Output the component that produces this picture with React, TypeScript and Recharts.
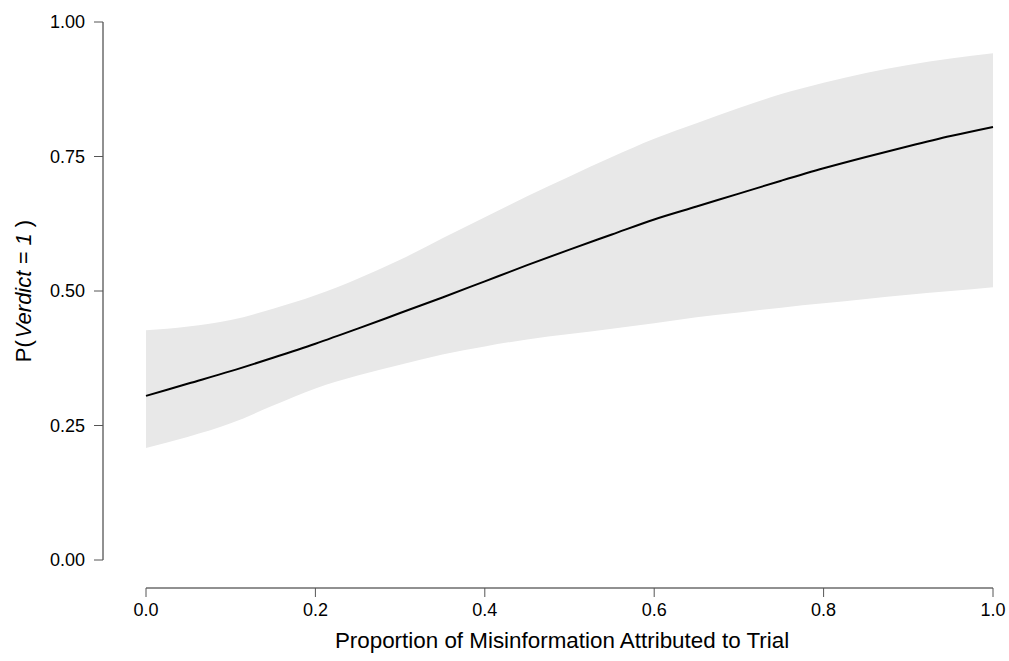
import { Area, ComposedChart, Line, XAxis, YAxis } from "recharts";

// proportion attributed to trial
const xs = [
  0, 0.05, 0.1, 0.15, 0.2, 0.25, 0.3, 0.35, 0.4, 0.45, 0.5, 0.55, 0.6, 0.65,
  0.7, 0.75, 0.8, 0.85, 0.9, 0.95, 1,
];
// fitted P(Verdict = 1)
const fit = [
  0.305, 0.328, 0.351, 0.376, 0.402, 0.43, 0.459, 0.488, 0.518, 0.548, 0.577,
  0.605, 0.633, 0.657, 0.681, 0.705, 0.728, 0.749, 0.769, 0.788, 0.805,
];
// confidence band
const lower = [
  0.208, 0.229, 0.254, 0.287, 0.319, 0.343, 0.363, 0.382, 0.397, 0.41, 0.42,
  0.43, 0.44, 0.451, 0.46, 0.469, 0.477, 0.485, 0.493, 0.5, 0.507,
];
const upper = [
  0.427, 0.434, 0.446, 0.467, 0.492, 0.523, 0.558, 0.598, 0.637, 0.676, 0.713,
  0.749, 0.783, 0.812, 0.84, 0.866, 0.887, 0.905, 0.92, 0.932, 0.942,
];

const xTicks = [0, 0.2, 0.4, 0.6, 0.8, 1];
const yTicks = [0, 0.25, 0.5, 0.75, 1];

const data = xs.map((x, i) => ({
  x,
  fit: fit[i],
  band: [lower[i], upper[i]],
}));

const font = "'Liberation Sans', Arial, sans-serif";

// R-style detached axes: line + ticks shifted away from the data region
function XTick({ x, y, payload }: any) {
  return (
    <text x={x} y={y + 28} dy="0.71em" textAnchor="middle" fontSize={18} fontFamily={font} fill="#000">
      {Number(payload.value).toFixed(1)}
    </text>
  );
}

function YTick({ x, y, payload }: any) {
  return (
    <text x={x - 43} y={y} dy="0.355em" textAnchor="end" fontSize={18} fontFamily={font} fill="#000">
      {Number(payload.value).toFixed(2)}
    </text>
  );
}

export default function App() {
  return (
    <div style={{ position: "absolute", left: 0, top: 0, width: 1009, height: 661, fontFamily: font }}>
      <style>{`
        .recharts-xAxis { transform: translate(0px, 28px); }
        .recharts-yAxis { transform: translate(-43px, 0px); }
      `}</style>
      <ComposedChart
        width={1009}
        height={661}
        data={data}
        margin={{ top: 22, right: 16, bottom: 0, left: 0 }}
        style={{ overflow: "visible" }}
      >
        <XAxis
          dataKey="x"
          type="number"
          domain={[0, 1]}
          ticks={xTicks}
          height={101}
          tickSize={9}
          tickMargin={6}
          stroke="#222"
          tickLine={{ stroke: "#555" }}
          tick={<XTick />}
        />
        <YAxis
          type="number"
          domain={[0, 1]}
          ticks={yTicks}
          width={146}
          tickSize={9}
          tickMargin={9}
          stroke="#222"
          tickLine={{ stroke: "#555" }}
          tick={<YTick />}
        />
        <Area
          dataKey="band"
          type="monotone"
          stroke="none"
          fill="#e8e8e8"
          fillOpacity={1}
          isAnimationActive={false}
        />
        <Line
          dataKey="fit"
          type="monotone"
          stroke="#000"
          strokeWidth={2}
          dot={false}
          isAnimationActive={false}
        />
      </ComposedChart>
      <svg
        width={1009}
        height={661}
        style={{ position: "absolute", left: 0, top: 0, pointerEvents: "none" }}
      >
        <text x={562} y={648} textAnchor="middle" fontSize={22.4} fontFamily={font} fill="#000">
          Proportion of Misinformation Attributed to Trial
        </text>
        <text
          transform="translate(31, 291) rotate(-90)"
          textAnchor="middle"
          fontSize={22}
          fontFamily={font}
          fill="#000"
        >
          P(<tspan fontStyle="italic">{"\u200aVerdict = 1"}</tspan>{" )"}
        </text>
      </svg>
    </div>
  );
}
